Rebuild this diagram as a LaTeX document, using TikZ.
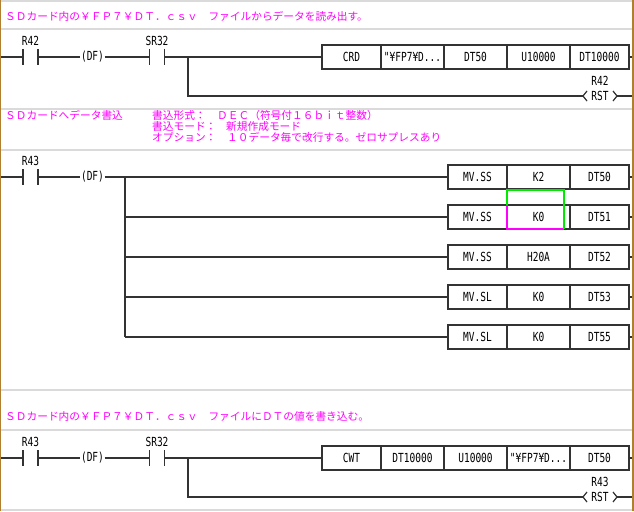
\documentclass[tikz,border=0pt]{standalone}
\usepackage{fontspec}
\usetikzlibrary{positioning}
\newfontfamily\jpfont{Noto Sans CJK JP}
\newfontfamily\ldfont[FakeStretch=0.76]{DejaVu Sans Mono}
\definecolor{cmtpink}{RGB}{255,0,255}
\definecolor{sepgray}{RGB}{218,218,218}
\definecolor{framebrown}{RGB}{176,128,48}
\definecolor{wiregray}{RGB}{51,51,51}
\definecolor{cursorgreen}{RGB}{0,235,0}

\begin{document}
\begin{tikzpicture}[x=1pt,y=-1pt,
    wire/.style={line width=1.2pt, color=wiregray},
    sep/.style={line width=1.5pt, color=sepgray},
    contact/.style={minimum width=15pt, minimum height=16pt, inner sep=0pt, outer sep=0pt},
    devname/.style={font=\ldfont\fontsize{12.5}{12.5}\selectfont, inner sep=0.5pt},
    cell/.style={draw=wiregray, line width=1.2pt, minimum width=63pt, minimum height=24pt, inner sep=0pt, outer sep=0pt, font=\ldfont\fontsize{12.5}{12.5}\selectfont},
    endcell/.style={cell, minimum width=59pt},
    coil/.style={minimum width=34pt, minimum height=10pt, inner sep=0pt, outer sep=0pt, font=\ldfont\fontsize{12.5}{12.5}\selectfont},
    cmt/.style={font=\jpfont\fontsize{10.7}{11}\selectfont, text=cmtpink, anchor=west, inner sep=0pt}]
    \useasboundingbox (0,0) rectangle (634,511);
    \fill[white] (0,0) rectangle (634,511); % background
    \foreach \y in {1,29,109,150,390,430,510} \draw[sep] (0,\y) -- (634,\y); % row separators
    \draw[framebrown, line width=1.5pt] (0.5,0) -- (0.5,511); % left frame
    \draw[framebrown, line width=1.5pt] (633,0) -- (633,511); % right frame

    % comments
    \node[cmt] (title1) at (5,16) {ＳＤカード内の￥ＦＰ７￥ＤＴ．ｃｓｖ　ファイルからデータを読み出す。};
    \node[cmt] (title2) at (5,115) {ＳＤカードへデータ書込};
    \node[cmt] (fmtkey) at (152,115) {書込形式：};
    \node[cmt] (fmtval) at (217,115) {ＤＥＣ（符号付１６ｂｉｔ整数）};
    \node[cmt] (modekey) at (152,126) {書込モード：};
    \node[cmt] (modeval) at (226,126) {新規作成モード};
    \node[cmt] (optkey) at (152,137) {オプション：};
    \node[cmt] (optval) at (227,137) {１０データ毎で改行する。ゼロサプレスあり};
    \node[cmt] (title3) at (5,416) {ＳＤカード内の￥ＦＰ７￥ＤＴ．ｃｓｖ　ファイルにＤＴの値を書き込む。};

    % rung 1: read
    \coordinate (left1) at (1,57);
    \coordinate (right1) at (632,57);
    \coordinate (branch1) at (188,57);
    \node[contact] (k1) at (30.5,57) {};
    \node[devname, above=3pt of k1] (k1name) {R42};
    \node[devname] (df1) at (92.5,57) {(DF)};
    \node[contact] (k2) at (157,57) {};
    \node[devname, above=3pt of k2] (k2name) {SR32};
    \node[endcell, anchor=west] (crd) at (322,57) {CRD};
    \node[cell, right=0pt of crd] (crdfile) {"¥FP7¥D...};
    \node[cell, right=0pt of crdfile] (crdhead) {DT50};
    \node[cell, right=0pt of crdhead] (crdsize) {U10000};
    \node[endcell, right=0pt of crdsize] (crddest) {DT10000};
    \node[coil] (rst1) at (600,96) {RST};
    \node[devname, above=5pt of rst1] (rst1name) {R42};
    \draw[wire] (left1) -- (k1.west) (k1.east) -- (df1.west) (df1.east) -- (k2.west) (k2.east) -- (crd.west); % main line
    \draw[wire] (crddest.east) -- (right1);
    \draw[wire] (branch1) |- (rst1.west); % reset branch
    \draw[wire] (rst1.east) -- (right1 |- rst1.east);

    % rung 2: write settings
    \coordinate (left2) at (1,177);
    \coordinate (branch2) at (125,177);
    \node[contact] (k3) at (30.5,177) {};
    \node[devname, above=3pt of k3] (k3name) {R43};
    \node[devname] (df2) at (92.5,177) {(DF)};
    \foreach \i/\y/\op/\src/\dst in {1/177/MV.SS/K2/DT50, 2/217/MV.SS/K0/DT51, 3/257/MV.SS/H20A/DT52, 4/297/MV.SL/K0/DT53, 5/337/MV.SL/K0/DT55} {
        \node[endcell, anchor=west] (mv\i) at (448,\y) {\op};
        \node[cell, right=0pt of mv\i] (mvsrc\i) {\src};
        \node[endcell, right=0pt of mvsrc\i] (mvdst\i) {\dst};
        \draw[wire] (branch2 |- mv\i.west) -- (mv\i.west);
        \draw[wire] (mvdst\i.east) -- (right1 |- mvdst\i.east);
    }
    \draw[wire] (left2) -- (k3.west) (k3.east) -- (df2.west) (df2.east) -- (branch2); % main line
    \draw[wire] (branch2) -- (branch2 |- mv5.west); % bus
    \draw[cmtpink, line width=1.2pt] (mvsrc2.north west) |- ([xshift=-6pt]mvsrc2.south east); % cursor
    \draw[cursorgreen, line width=1.2pt] ([xshift=-6pt]mvsrc2.south east) -- ([xshift=-6pt,yshift=15pt]mvsrc2.north east) -- ([yshift=15pt]mvsrc2.north west) -- (mvsrc2.north west);

    % rung 3: write
    \coordinate (left3) at (1,458);
    \coordinate (branch3) at (188,458);
    \node[contact] (k4) at (30.5,458) {};
    \node[devname, above=3pt of k4] (k4name) {R43};
    \node[devname] (df3) at (92.5,458) {(DF)};
    \node[contact] (k5) at (157,458) {};
    \node[devname, above=3pt of k5] (k5name) {SR32};
    \node[endcell, anchor=west] (cwt) at (322,458) {CWT};
    \node[cell, right=0pt of cwt] (cwtsrc) {DT10000};
    \node[cell, right=0pt of cwtsrc] (cwtsize) {U10000};
    \node[cell, right=0pt of cwtsize] (cwtfile) {"¥FP7¥D...};
    \node[endcell, right=0pt of cwtfile] (cwthead) {DT50};
    \node[coil] (rst2) at (600,497) {RST};
    \node[devname, above=5pt of rst2] (rst2name) {R43};
    \draw[wire] (left3) -- (k4.west) (k4.east) -- (df3.west) (df3.east) -- (k5.west) (k5.east) -- (cwt.west); % main line
    \draw[wire] (cwthead.east) -- (right1 |- cwthead.east);
    \draw[wire] (branch3) |- (rst2.west); % reset branch
    \draw[wire] (rst2.east) -- (right1 |- rst2.east);

    % contact bars and coil brackets
    \foreach \k in {k1,k2,k3,k4,k5}
        \draw[wire] (\k.north west) -- (\k.south west) (\k.north east) -- (\k.south east);
    \foreach \c in {rst1,rst2}
        \draw[wire] ([xshift=4pt]\c.north west) -- (\c.west) -- ([xshift=4pt]\c.south west)
                    ([xshift=-4pt]\c.north east) -- (\c.east) -- ([xshift=-4pt]\c.south east);
\end{tikzpicture}
\end{document}
